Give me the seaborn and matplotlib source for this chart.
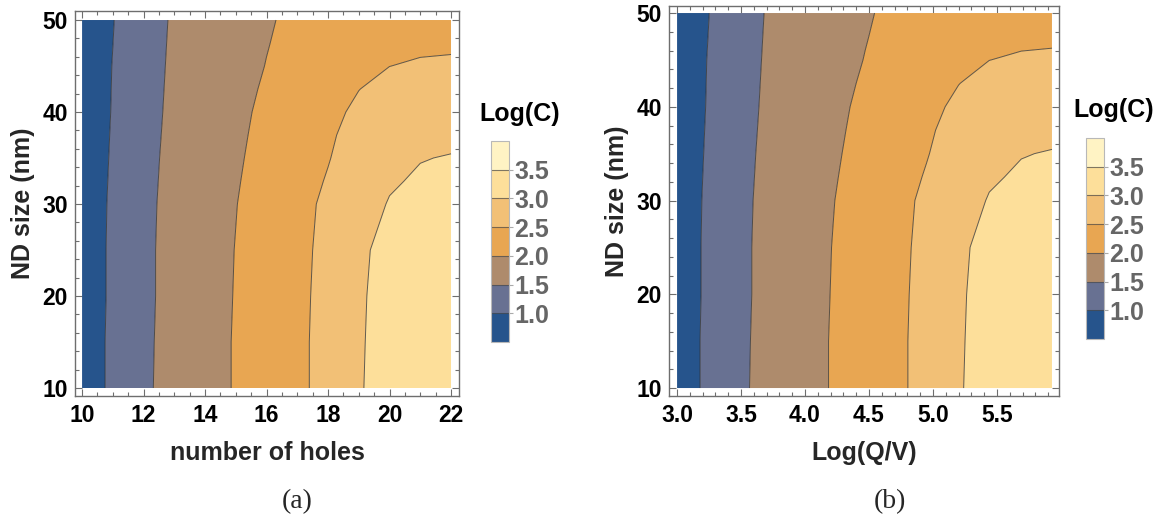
import numpy as np
import matplotlib
matplotlib.use("Agg")
import matplotlib.pyplot as plt
from matplotlib.colors import ListedColormap, BoundaryNorm
from matplotlib.ticker import MultipleLocator, FormatStrFormatter, NullLocator
import seaborn as sns

# ---- data -------------------------------------------------------------
holes = [10, 11, 12, 13, 14, 15, 16, 17, 18, 19, 20, 21, 22]
log_qv = [3.00, 3.24, 3.49, 3.73, 3.98, 4.22, 4.47, 4.71, 4.95, 5.20, 5.44, 5.69, 5.93]
nd_size = [10, 15, 20, 25, 30, 32.5, 35, 37.5, 40, 42.5, 45, 47.5, 50]

# Log(C) along the hole axis, one list per ND size
logc_10nm = [0.76, 1.08, 1.43, 1.65, 1.83, 2.03, 2.22, 2.41, 2.64, 2.97, 3.15, 3.26, 3.35]
logc_15nm = [0.76, 1.08, 1.42, 1.65, 1.83, 2.03, 2.22, 2.41, 2.64, 2.96, 3.15, 3.26, 3.35]
logc_20nm = [0.75, 1.07, 1.41, 1.64, 1.82, 2.02, 2.22, 2.40, 2.63, 2.95, 3.14, 3.25, 3.34]
logc_25nm = [0.75, 1.07, 1.41, 1.64, 1.82, 2.01, 2.21, 2.39, 2.61, 2.94, 3.10, 3.22, 3.30]
logc_30nm = [0.75, 1.06, 1.40, 1.63, 1.80, 1.99, 2.18, 2.37, 2.58, 2.81, 3.025, 3.11, 3.20]
logc_32nm = [0.745, 1.05, 1.39, 1.62, 1.785, 1.97, 2.155, 2.347, 2.527, 2.75, 2.955, 3.05, 3.12]
logc_35nm = [0.74, 1.04, 1.38, 1.61, 1.77, 1.95, 2.13, 2.31, 2.482, 2.68, 2.87, 2.985, 3.02]
logc_37nm = [0.735, 1.03, 1.365, 1.60, 1.755, 1.93, 2.105, 2.275, 2.453, 2.62, 2.78, 2.87, 2.91]
logc_40nm = [0.73, 1.02, 1.35, 1.59, 1.74, 1.91, 2.08, 2.24, 2.417, 2.56, 2.68, 2.75, 2.80]
logc_42nm = [0.72, 1.015, 1.34, 1.58, 1.72, 1.885, 2.045, 2.19, 2.34, 2.495, 2.59, 2.63, 2.67]
logc_45nm = [0.71, 1.01, 1.33, 1.57, 1.70, 1.86, 2.01, 2.13, 2.26, 2.40, 2.498, 2.53, 2.54]
logc_47nm = [0.70, 0.9975, 1.32, 1.56, 1.69, 1.84, 1.985, 2.11, 2.225, 2.33, 2.42, 2.45, 2.46]
logc_50nm = [0.69, 0.985, 1.31, 1.55, 1.68, 1.82, 1.96, 2.09, 2.19, 2.28, 2.35, 2.39, 2.40]

levels = [0.5, 1.0, 1.5, 2.0, 2.5, 3.0, 3.5, 4.0]
cbar_ticks = [1.0, 1.5, 2.0, 2.5, 3.0, 3.5]
band_colors = ["#26548C", "#687192", "#AE8B6C", "#E8A652",
               "#F2C076", "#FDDF9A", "#FFF3C4"]

# ---- style ------------------------------------------------------------
sns.set_theme(style="ticks")
plt.rcParams["font.family"] = ["Liberation Sans", "DejaVu Sans"]
plt.rcParams["font.weight"] = "bold"

logc = np.array([logc_10nm, logc_15nm, logc_20nm, logc_25nm, logc_30nm,
                 logc_32nm, logc_35nm, logc_37nm, logc_40nm, logc_42nm,
                 logc_45nm, logc_47nm, logc_50nm])
cmap = ListedColormap(band_colors)
norm = BoundaryNorm(levels, cmap.N)

fig = plt.figure(figsize=(11.6, 5.19), dpi=100)

FRAME = "#6e6e6e"
W, H = 1160.0, 519.0
TICK_FS = 16.5
LABEL_FS = 18


def px_axes(left, top, right, bottom):
    return fig.add_axes([left / W, 1 - bottom / H, (right - left) / W, (bottom - top) / H])


def draw_panel(ax, xvals, xlabel, xlim, ylim, xmajor, xminor, xfmt):
    cf = ax.contourf(xvals, nd_size, logc, levels=levels, cmap=cmap, norm=norm,
                     antialiased=True)
    ax.contour(xvals, nd_size, logc, levels=levels[1:-1], colors="#2e2e2e",
               linewidths=0.7, alpha=0.75)
    ax.set_xlim(*xlim)
    ax.set_ylim(*ylim)
    ax.xaxis.set_major_locator(MultipleLocator(xmajor))
    ax.xaxis.set_minor_locator(MultipleLocator(xminor))
    ax.xaxis.set_major_formatter(FormatStrFormatter(xfmt))
    ax.yaxis.set_major_locator(MultipleLocator(10))
    ax.yaxis.set_minor_locator(MultipleLocator(2))
    ax.tick_params(which="both", direction="in", top=True, right=True,
                   color=FRAME, width=0.8)
    ax.tick_params(which="major", length=5, labelsize=TICK_FS, labelcolor="black")
    ax.tick_params(which="minor", length=3)
    ax.tick_params(axis="x", which="major", pad=6)
    ax.tick_params(axis="y", which="major", pad=5)
    for lab in ax.get_xticklabels() + ax.get_yticklabels():
        lab.set_fontweight("bold")
    for sp in ax.spines.values():
        sp.set_visible(True)
        sp.set_color(FRAME)
        sp.set_linewidth(1.0)
    ax.set_xlabel(xlabel, fontsize=LABEL_FS, fontweight="bold", labelpad=10)
    ax.set_ylabel("ND size (nm)", fontsize=LABEL_FS, fontweight="bold", labelpad=5)
    ax.set_facecolor("white")
    return cf


def draw_cbar(cf, cax, title_xy):
    cb = fig.colorbar(cf, cax=cax, ticks=cbar_ticks, drawedges=False)
    cb.ax.yaxis.set_minor_locator(NullLocator())
    cb.outline.set_edgecolor("#b8b8b8")
    cb.outline.set_linewidth(0.8)
    # band separators
    for lev in levels[1:-1]:
        cb.ax.axhline(lev, color="#4a4a4a", linewidth=0.8, alpha=0.7)
    cb.ax.yaxis.set_major_formatter(FormatStrFormatter("%.1f"))
    cb.ax.tick_params(which="both", left=False, direction="out")
    cb.ax.tick_params(which="major", length=3, width=0.8, color="#aaaaaa",
                      labelsize=LABEL_FS, labelcolor="#666666", pad=1)
    cb.ax.tick_params(which="minor", length=0)
    for lab in cb.ax.get_yticklabels():
        lab.set_fontweight("bold")
    fig.text(title_xy[0] / W, 1 - title_xy[1] / H, "Log(C)", fontsize=LABEL_FS,
             fontweight="bold", ha="center", va="center", color="black")


# panel (a): number of holes
ax_a = px_axes(75, 11, 459, 396)
cf_a = draw_panel(ax_a, holes, "number of holes", (9.77, 22.26), (9.13, 50.98),
                  2, 0.5, "%d")
cax_a = px_axes(491, 141, 509, 342)
draw_cbar(cf_a, cax_a, (520, 114))

# panel (b): Log(Q/V)
ax_b = px_axes(669, 6, 1059, 396)
cf_b = draw_panel(ax_b, log_qv, "Log(Q/V)", (2.937, 5.985), (9.15, 50.75),
                  0.5, 0.1, "%.1f")
cax_b = px_axes(1086, 138, 1104, 339)
draw_cbar(cf_b, cax_b, (1114, 110))

# sub-figure captions
for label, xc in (("(a)", 297), ("(b)", 890)):
    fig.text(xc / W, 1 - 502 / H, label, fontsize=20, fontweight="normal",
             family=["Liberation Serif", "DejaVu Serif"], ha="center", va="center")

fig.savefig("out.png", dpi=100, facecolor="white")
